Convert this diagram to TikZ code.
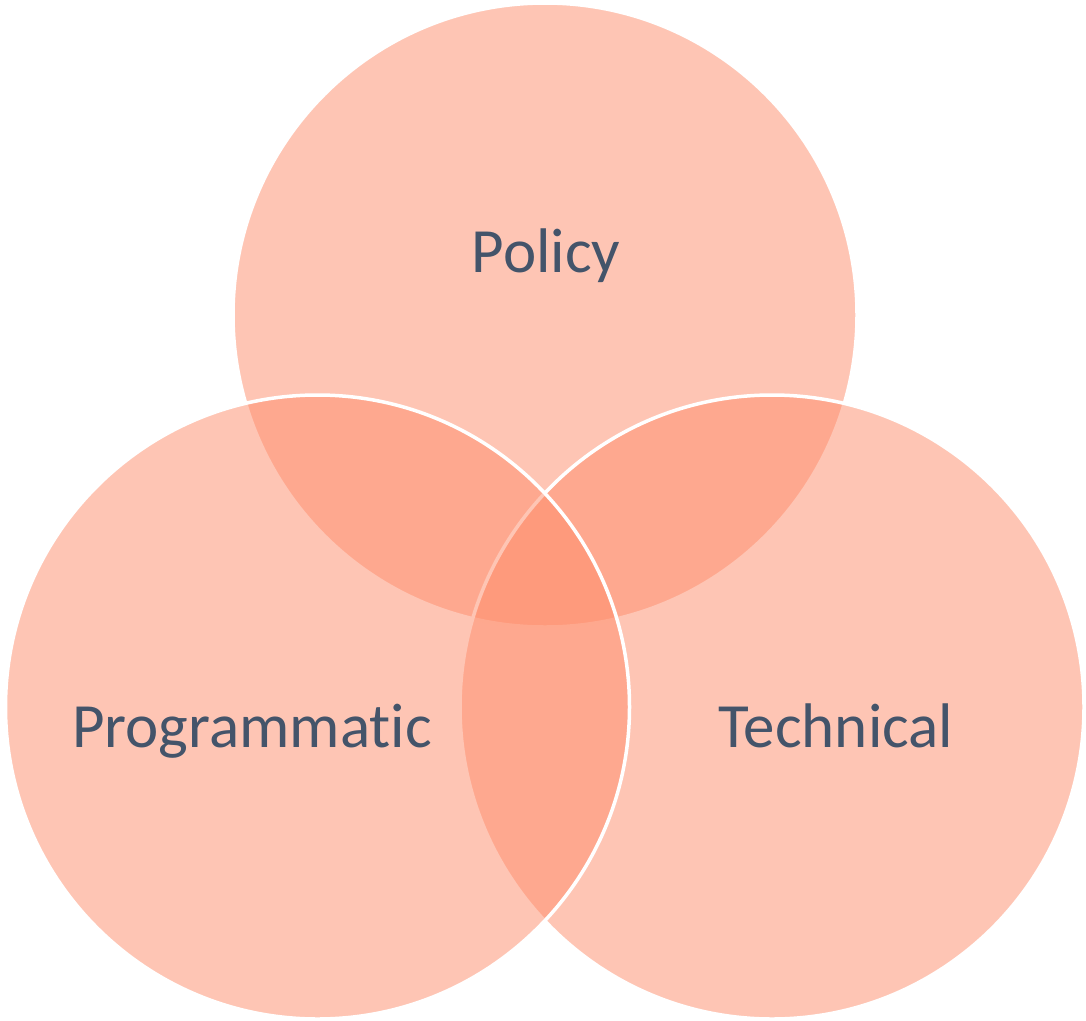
\documentclass[tikz,border=0pt]{standalone}
\usepackage{fontspec}
\setmainfont[Ligatures=NoCommon]{Carlito}
\definecolor{vennfill}{RGB}{254,140,106}
\definecolor{venntext}{HTML}{44546A}
\tikzset{
  venn/.style={draw=white, line width=3.5pt, fill=vennfill, fill opacity=0.5},
  vlabel/.style={anchor=base, text=venntext, font=\fontsize{63}{75}\selectfont, inner sep=0pt}
}
\begin{document}
\begin{tikzpicture}[x=1pt,y=-1pt]
\useasboundingbox (0,0) rectangle (1086,1020);
\path[venn] (545,315) circle[radius=312];
\path[venn] (772,707) circle[radius=312];
\path[venn] (317.5,707) circle[radius=312];
\node[vlabel] (policy) at (546,272) {Policy};
\node[vlabel] (prog) at (252,747) {Programmatic};
\node[vlabel] (tech) at (836,747) {Technical};
\end{tikzpicture}
\end{document}
